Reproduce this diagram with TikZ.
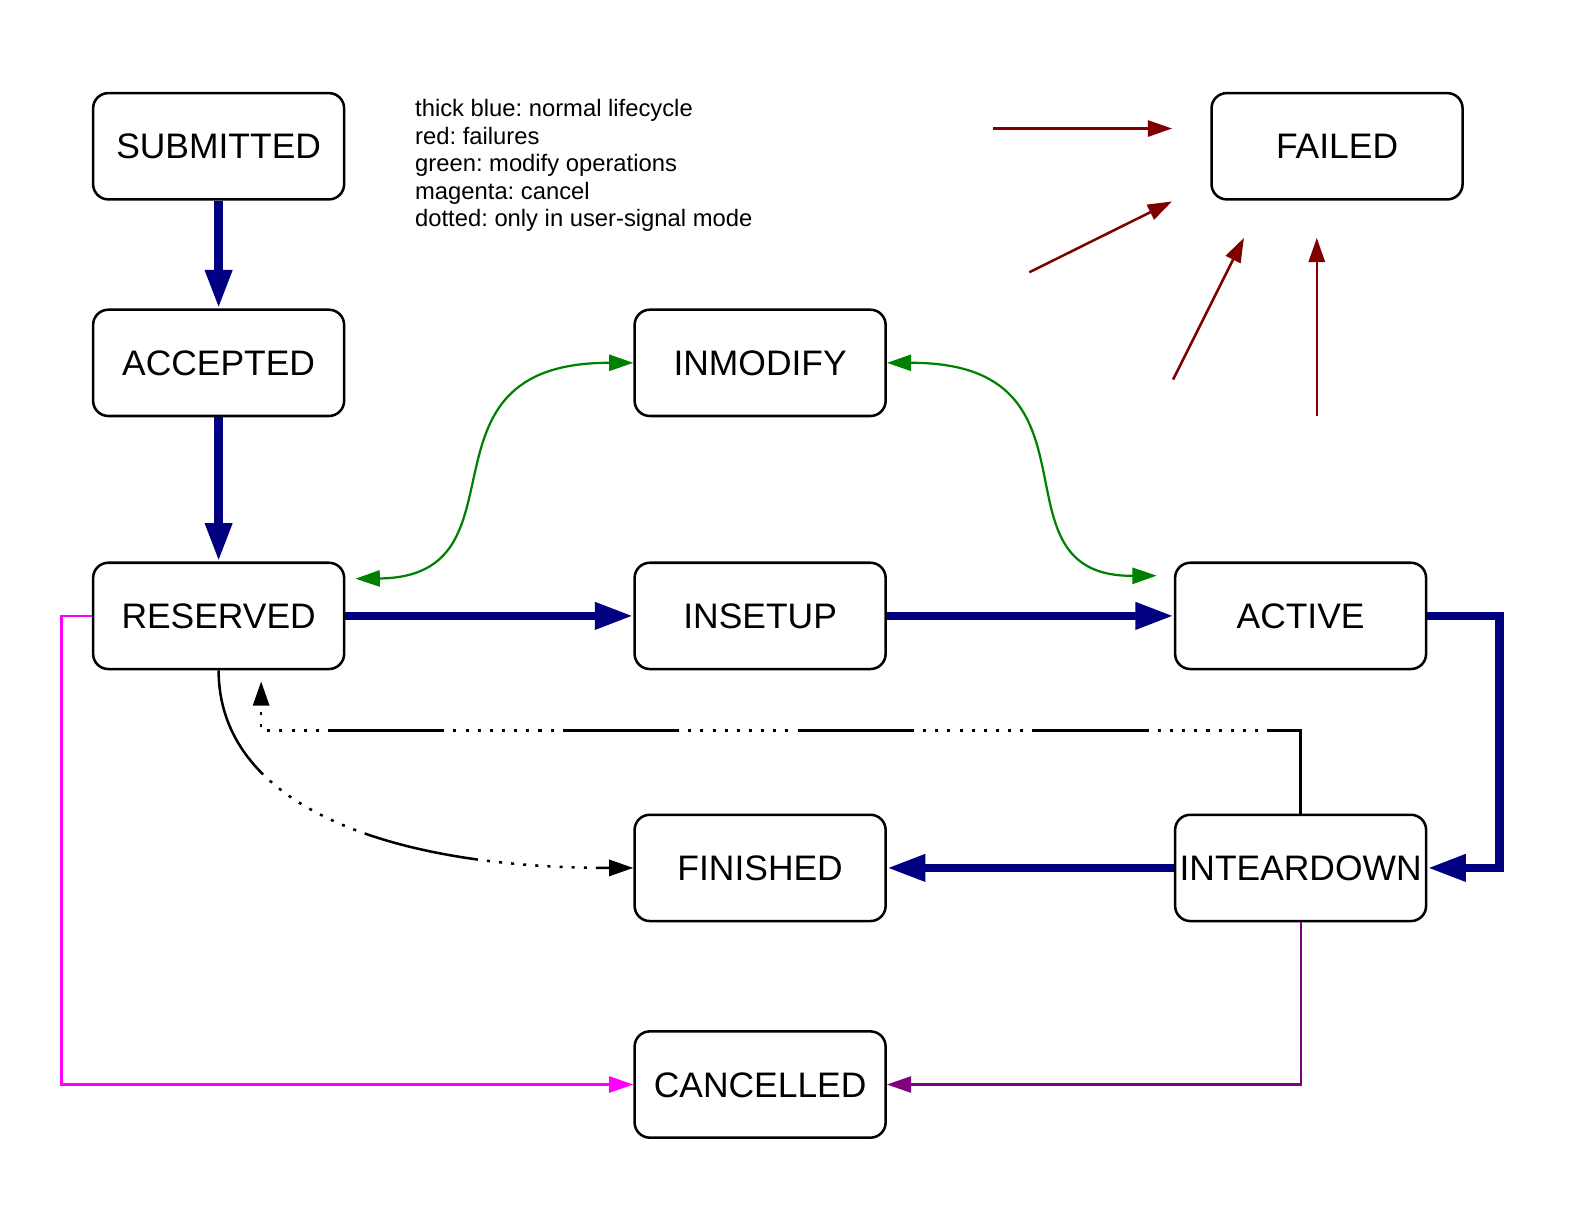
\documentclass[tikz,border=0pt]{standalone}
\usepackage{fontspec}
\setmainfont{Liberation Sans}
\usetikzlibrary{arrows.meta,calc}
\definecolor{navyblue}{HTML}{000080}
\definecolor{okgreen}{HTML}{008000}
\definecolor{maroonred}{HTML}{800000}
\definecolor{magcol}{HTML}{FF00FF}
\definecolor{purpcol}{HTML}{800080}
\frenchspacing
\begin{document}
\begin{tikzpicture}[x=1pt,y=-1pt,
  state/.style={draw, line width=2.5pt, rounded corners=15pt, minimum width=248pt,
    minimum height=105pt, inner sep=0pt, fill=white,
    font=\fontsize{35}{42}\selectfont, text height=25pt, text depth=0pt},
  smalltip/.style={-{Triangle[length=24pt,width=16pt]}},
  life/.style={draw=navyblue, line width=8.5pt, -{Triangle[length=38pt,width=25pt]}},
  modify/.style={draw=okgreen, line width=2.2pt,
    {Triangle[length=24pt,width=16pt]}-{Triangle[length=24pt,width=16pt]}},
  failarrow/.style={draw=maroonred, line width=2.5pt, smalltip},
  cancelm/.style={draw=magcol, line width=2.2pt, smalltip},
  cancelp/.style={draw=purpcol, line width=2.2pt, smalltip},
  userdash/.style={draw=black, line width=2.5pt, smalltip,
    dash pattern=on 115pt off 9pt on 3pt off 9pt on 3pt off 9pt on 3pt off 9pt on 3pt off 9pt on 3pt off 9pt on 3pt off 9pt on 3pt off 9pt on 3pt off 9pt on 3pt off 9pt},
  legendtext/.style={anchor=north west, align=left, inner sep=0pt,
    font=\fontsize{23.5}{27.2}\selectfont}
]
\useasboundingbox (0,0) rectangle (1565,1209);

% states
\node[state] (submitted) at (216,144.5) {SUBMITTED};
\node[state] (accepted)  at (216,358.5) {ACCEPTED};
\node[state] (reserved)  at (216,608.5) {RESERVED};
\node[state] (inmodify)  at (751,358.5) {INMODIFY};
\node[state] (insetup)   at (751,608.5) {INSETUP};
\node[state] (active)    at (1285,608.5) {ACTIVE};
\node[state] (finished)  at (751,857.5) {FINISHED};
\node[state] (intear)    at (1285,857.5) {INTEARDOWN};
\node[state] (cancelled) at (751,1071.5) {CANCELLED};
\node[state] (failed)    at (1321,144.5) {FAILED};

% legend
\node[legendtext] (legend) at (410,98) {thick blue: normal lifecycle\\red: failures\\green: modify operations\\magenta: cancel\\dotted: only in user-signal mode};

% normal lifecycle
\draw[life] (submitted.south) -- (accepted.north);
\draw[life] (accepted.south) -- (reserved.north);
\draw[life] (reserved.east) -- (insetup.west);
\draw[life] (insetup.east) -- (active.west);
\draw[life] (active.east) -- ++(71,0) |- (intear.east);
\draw[life] (intear.west) -- (finished.east);

% modify operations
\coordinate (resmod) at ($(reserved.north east)+(10,17)$);
\coordinate (actmod) at ($(active.north west)+(-17,14)$);
\draw[modify] (resmod) .. controls (529,570) and (398,358) .. (inmodify.west);
\draw[modify] (inmodify.east) .. controls (1103,358) and (972,570) .. (actmod);

% failures
\coordinate (f1s) at (981,127);  \coordinate (f1e) at (1158,127);
\coordinate (f2s) at (1017,269); \coordinate (f2e) at (1158,199);
\coordinate (f3s) at (1159,375); \coordinate (f3e) at (1229,235);
\coordinate (f4s) at (1301,411); \coordinate (f4e) at (1301,235);
\draw[failarrow] (f1s) -- (f1e);
\draw[failarrow] (f2s) -- (f2e);
\draw[failarrow] (f3s) -- (f3e);
\draw[failarrow] (f4s) -- (f4e);

% cancel
\draw[cancelm] (reserved.west) -- ++(-30,0) |- (cancelled.west);
\draw[cancelp] (intear.south) |- (cancelled.east);

% user-signal mode
\coordinate (uptip) at ($(reserved.south)+(42,11)$);
\draw[userdash] (intear.north) -- ++(0,-82) -| (uptip);
\draw[userdash] (reserved.south) .. controls ($(reserved.south)+(0,130)$) and ($(finished.west)+(-250,0)$) .. (finished.west);
\end{tikzpicture}
\end{document}
